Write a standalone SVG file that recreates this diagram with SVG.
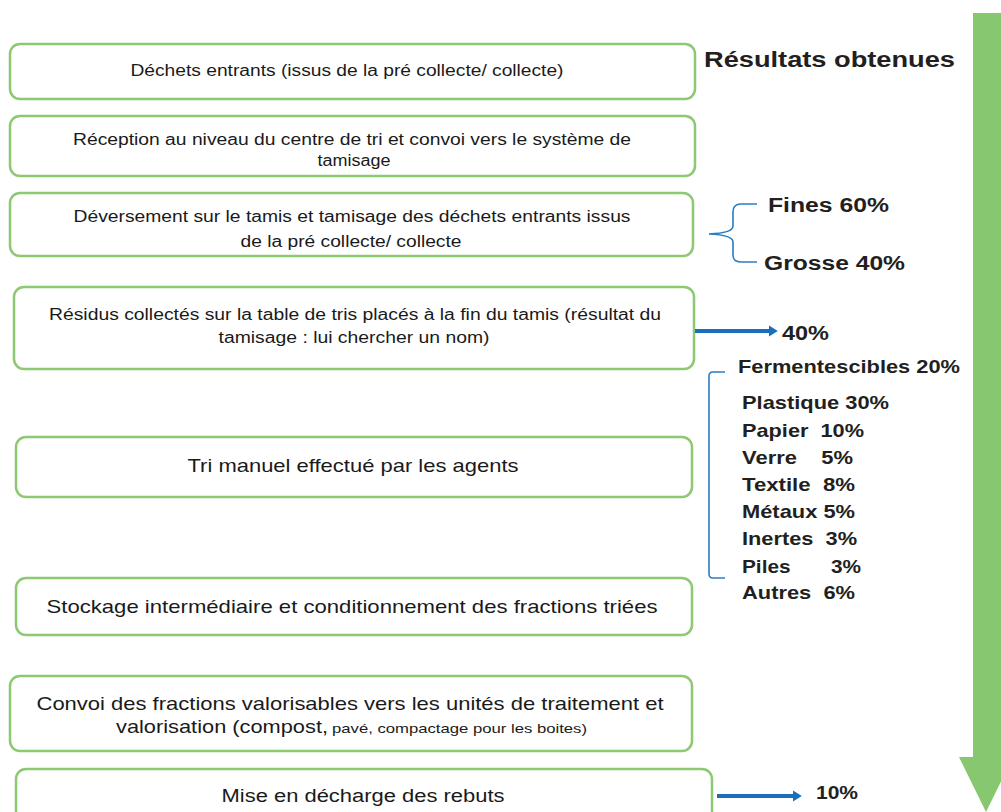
<svg xmlns="http://www.w3.org/2000/svg" width="1001" height="812" viewBox="0 0 1001 812">
<defs>
<style>
.box{fill:#fff;stroke:#8dc873;stroke-width:2.5}
.t{font-family:"Liberation Sans",Arial,sans-serif;fill:#1a1a1a;text-anchor:middle}
.b{font-family:"Liberation Sans",Arial,sans-serif;font-weight:bold;fill:#231f20}
.blue{stroke:#1b6fba;stroke-width:4;fill:none}
.brace{stroke:#2a7cc4;stroke-width:1.6;fill:none}
</style>
<marker id="ah" markerWidth="4" markerHeight="4" refX="0.5" refY="2" orient="auto" markerUnits="strokeWidth">
<path d="M0,0.6 L2.2,2 L0,3.4 Z" fill="#1b6fba"/>
</marker>
</defs>
<rect width="1001" height="812" fill="#fff"/>
<polygon id="flow-arrow" points="973,13 1001,13 1001,757 1013,757 986,812 959,757 973,757" fill="#86c76f"/>
<g id="n1"><rect class="box" x="10" y="44" width="685" height="55" rx="10"/>
<text class="t" x="347" y="76" font-size="16" textLength="433" lengthAdjust="spacingAndGlyphs">Déchets entrants (issus de la pré collecte/ collecte)</text></g>
<g id="n2"><rect class="box" x="10" y="116" width="685" height="60" rx="10"/>
<text class="t" x="352" y="145" font-size="16" textLength="558" lengthAdjust="spacingAndGlyphs">Réception au niveau du centre de tri et convoi vers le système de</text>
<text class="t" x="354" y="166" font-size="16" textLength="73" lengthAdjust="spacingAndGlyphs">tamisage</text></g>
<g id="n3"><rect class="box" x="10" y="193" width="683" height="63" rx="10"/>
<text class="t" x="352" y="222" font-size="16" textLength="557" lengthAdjust="spacingAndGlyphs">Déversement sur le tamis et tamisage des déchets entrants issus</text>
<text class="t" x="351" y="247" font-size="16" textLength="221" lengthAdjust="spacingAndGlyphs">de la pré collecte/ collecte</text></g>
<g id="n4"><rect class="box" x="14" y="287" width="680" height="82" rx="10"/>
<text class="t" x="355" y="320" font-size="16" textLength="612" lengthAdjust="spacingAndGlyphs">Résidus collectés sur la table de tris placés à la fin du tamis (résultat du</text>
<text class="t" x="354" y="343" font-size="16" textLength="271" lengthAdjust="spacingAndGlyphs">tamisage : lui chercher un nom)</text></g>
<g id="n5"><rect class="box" x="16" y="437" width="676" height="60" rx="10"/>
<text class="t" x="353" y="472" font-size="19" textLength="331" lengthAdjust="spacingAndGlyphs">Tri manuel effectué par les agents</text></g>
<g id="n6"><rect class="box" x="16" y="578" width="676" height="57" rx="10"/>
<text class="t" x="352" y="613" font-size="19" textLength="611" lengthAdjust="spacingAndGlyphs">Stockage intermédiaire et conditionnement des fractions triées</text></g>
<g id="n7"><rect class="box" x="10" y="676" width="682" height="75" rx="10"/>
<text class="t" x="350" y="710" font-size="19" textLength="627" lengthAdjust="spacingAndGlyphs">Convoi des fractions valorisables vers les unités de traitement et</text>
<text x="116" y="733" font-family="Liberation Sans,Arial,sans-serif" fill="#1a1a1a"><tspan font-size="19" textLength="212" lengthAdjust="spacingAndGlyphs">valorisation (compost,</tspan><tspan font-size="13" dx="4" textLength="255" lengthAdjust="spacingAndGlyphs">pavé, compactage pour les boites)</tspan></text></g>
<g id="n8"><rect class="box" x="16" y="769" width="696" height="70" rx="10"/>
<text class="t" x="363" y="802" font-size="18" textLength="283" lengthAdjust="spacingAndGlyphs">Mise en décharge des rebuts</text></g>
<g id="results">
<text class="b" x="704" y="67" font-size="22" textLength="251" lengthAdjust="spacingAndGlyphs">Résultats obtenues</text>
<text class="b" x="768" y="212" font-size="20" textLength="121" lengthAdjust="spacingAndGlyphs">Fines 60%</text>
<text class="b" x="764" y="270" font-size="20" textLength="141" lengthAdjust="spacingAndGlyphs">Grosse 40%</text>
<text class="b" x="782" y="340" font-size="20" textLength="47" lengthAdjust="spacingAndGlyphs">40%</text>
<text class="b" x="738" y="373" font-size="18" textLength="222" lengthAdjust="spacingAndGlyphs">Fermentescibles 20%</text>
<text class="b" x="742" y="409" font-size="19" textLength="147" lengthAdjust="spacingAndGlyphs">Plastique 30%</text>
<text class="b" x="742" y="437" font-size="19" xml:space="preserve" textLength="122" lengthAdjust="spacingAndGlyphs">Papier  10%</text>
<text class="b" x="742" y="464" font-size="19" xml:space="preserve" textLength="111" lengthAdjust="spacingAndGlyphs">Verre    5%</text>
<text class="b" x="742" y="491" font-size="19" xml:space="preserve" textLength="113" lengthAdjust="spacingAndGlyphs">Textile  8%</text>
<text class="b" x="742" y="518" font-size="19" textLength="113" lengthAdjust="spacingAndGlyphs">Métaux 5%</text>
<text class="b" x="742" y="545" font-size="19" xml:space="preserve" textLength="115" lengthAdjust="spacingAndGlyphs">Inertes  3%</text>
<text class="b" x="742" y="573" font-size="19" xml:space="preserve" textLength="119" lengthAdjust="spacingAndGlyphs">Piles       3%</text>
<text class="b" x="742" y="599" font-size="19" xml:space="preserve" textLength="113" lengthAdjust="spacingAndGlyphs">Autres  6%</text>
<text class="b" x="816" y="799" font-size="18" textLength="42" lengthAdjust="spacingAndGlyphs">10%</text>
</g>
<g id="connectors">
<path class="brace" d="M757,204 H741 Q733,204 733,212 V226 Q733,233 709,234 Q733,235 733,242 V255 Q733,262 741,262 H757"/>
<path class="brace" d="M725,372 H713 Q709,372 709,376 V574 Q709,578 713,578 H725"/>
<line class="blue" x1="695" y1="331" x2="771" y2="331" marker-end="url(#ah)"/>
<line class="blue" x1="717" y1="796" x2="795" y2="796" marker-end="url(#ah)"/>
</g>
</svg>
